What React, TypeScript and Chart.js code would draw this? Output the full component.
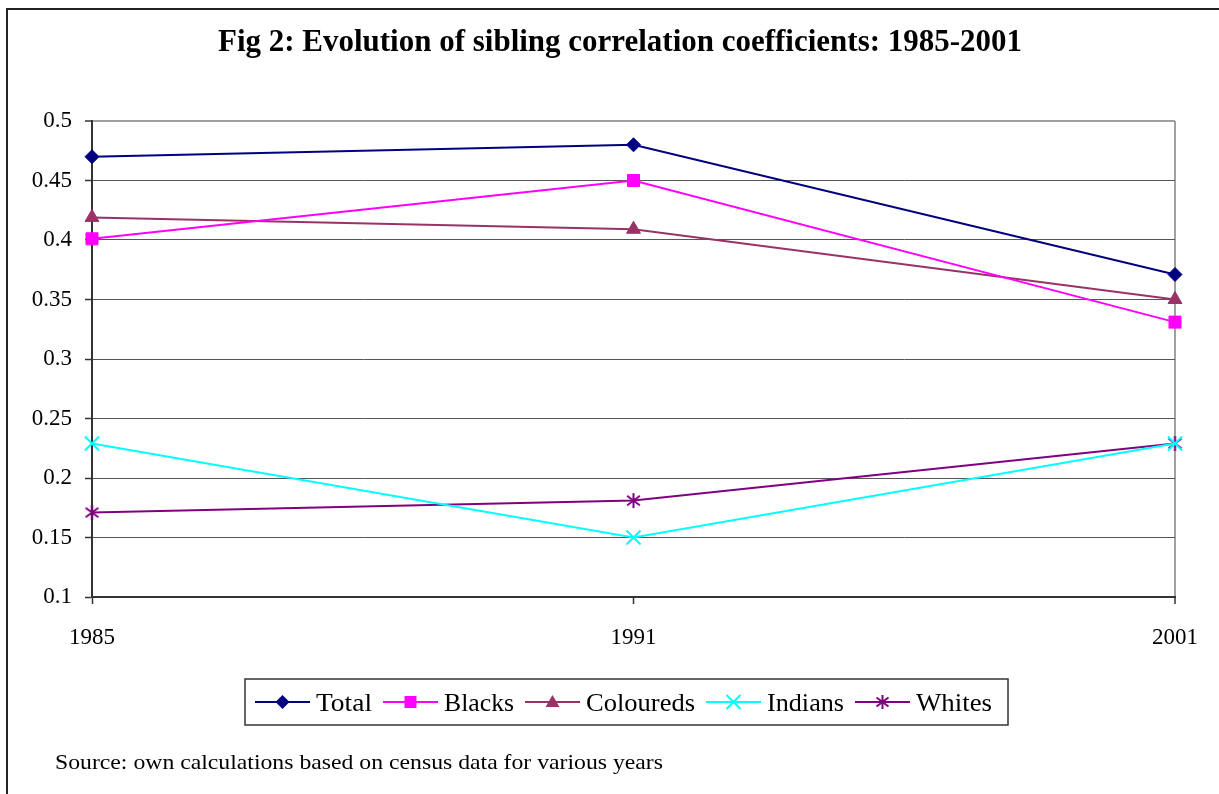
import React, { useEffect, useRef } from "react";
import { Chart, registerables } from "chart.js";

Chart.register(...registerables);

const years = ["1985", "1991", "2001"];
const total = [0.47, 0.48, 0.371];
const blacks = [0.401, 0.45, 0.331];
const coloureds = [0.419, 0.409, 0.35];
const indians = [0.229, 0.15, 0.229];
const whites = [0.171, 0.181, 0.229];

const titleText = "Fig 2: Evolution of sibling correlation coefficients: 1985-2001";
const sourceText = "Source: own calculations based on census data for various years";
const SERIF = '"Liberation Serif", "Times New Roman", serif';

function makeAsterisk(color: string, size: number) {
  const c = document.createElement("canvas");
  c.width = size;
  c.height = size;
  const g = c.getContext("2d")!;
  g.strokeStyle = color;
  g.lineWidth = 2;
  const m = size / 2;
  const r = size / 2 - 1;
  g.beginPath();
  g.moveTo(m, m - r);
  g.lineTo(m, m + r);
  const d = r * 0.85;
  g.moveTo(m - d, m - d * 0.75);
  g.lineTo(m + d, m + d * 0.75);
  g.moveTo(m + d, m - d * 0.75);
  g.lineTo(m - d, m + d * 0.75);
  g.stroke();
  return c;
}

function drawMarker(ctx: CanvasRenderingContext2D, kind: string, x: number, y: number, color: string) {
  ctx.save();
  ctx.fillStyle = color;
  ctx.strokeStyle = color;
  ctx.lineWidth = 2;
  ctx.beginPath();
  if (kind === "diamond") {
    ctx.moveTo(x, y - 7);
    ctx.lineTo(x + 7, y);
    ctx.lineTo(x, y + 7);
    ctx.lineTo(x - 7, y);
    ctx.closePath();
    ctx.fill();
  } else if (kind === "square") {
    ctx.rect(x - 6, y - 6, 12, 12);
    ctx.fill();
  } else if (kind === "triangle") {
    ctx.moveTo(x, y - 7);
    ctx.lineTo(x + 7, y + 5);
    ctx.lineTo(x - 7, y + 5);
    ctx.closePath();
    ctx.fill();
  } else if (kind === "x") {
    ctx.moveTo(x - 7, y - 7);
    ctx.lineTo(x + 7, y + 7);
    ctx.moveTo(x + 7, y - 7);
    ctx.lineTo(x - 7, y + 7);
    ctx.stroke();
  } else if (kind === "star") {
    ctx.moveTo(x, y - 7);
    ctx.lineTo(x, y + 7);
    ctx.moveTo(x - 6, y - 4.5);
    ctx.lineTo(x + 6, y + 4.5);
    ctx.moveTo(x + 6, y - 4.5);
    ctx.lineTo(x - 6, y + 4.5);
    ctx.stroke();
  }
  ctx.restore();
}

function stretchedText(ctx: CanvasRenderingContext2D, text: string, x: number, y: number, font: string, targetWidth: number, align: "left" | "center") {
  ctx.save();
  ctx.font = font;
  ctx.fillStyle = "#000";
  ctx.textBaseline = "alphabetic";
  const w = ctx.measureText(text).width;
  const sx = targetWidth / w;
  const left = align === "center" ? x - targetWidth / 2 : x;
  ctx.translate(left, y);
  ctx.scale(sx, 1);
  ctx.textAlign = "left";
  ctx.fillText(text, 0, 0);
  ctx.restore();
  return targetWidth;
}

const legendItems = [
  { label: "Total", color: "#000080", marker: "diamond", width: 56 },
  { label: "Blacks", color: "#FF00FF", marker: "square", width: 70 },
  { label: "Coloureds", color: "#993366", marker: "triangle", width: 109 },
  { label: "Indians", color: "#00FFFF", marker: "x", width: 77 },
  { label: "Whites", color: "#800080", marker: "star", width: 76 },
];

const decorPlugin = {
  id: "decor",
  afterDraw(chart: any) {
    const ctx: CanvasRenderingContext2D = chart.ctx;
    ctx.save();
    ctx.strokeStyle = "#222";
    ctx.lineWidth = 2;
    ctx.beginPath();
    ctx.moveTo(7, 800);
    ctx.lineTo(7, 9);
    ctx.lineTo(1225, 9);
    ctx.stroke();
    ctx.restore();

    stretchedText(ctx, titleText, 620, 51, `bold 31px ${SERIF}`, 804, "center");

    ctx.save();
    ctx.strokeStyle = "#333";
    ctx.lineWidth = 1.5;
    ctx.strokeRect(245, 679, 763, 46);
    ctx.restore();
    let x = 255;
    const cy = 702;
    for (const it of legendItems) {
      ctx.save();
      ctx.strokeStyle = it.color;
      ctx.lineWidth = 2;
      ctx.beginPath();
      ctx.moveTo(x, cy);
      ctx.lineTo(x + 55, cy);
      ctx.stroke();
      ctx.restore();
      drawMarker(ctx, it.marker, x + 27.5, cy, it.color);
      stretchedText(ctx, it.label, x + 61, cy + 9, `26px ${SERIF}`, it.width, "left");
      x = x + 61 + it.width + 11;
    }

    stretchedText(ctx, sourceText, 55, 769, `22px ${SERIF}`, 608, "left");
  },
};

export default function App() {
  const ref = useRef<HTMLCanvasElement>(null);
  useEffect(() => {
    const canvas = ref.current!;
    let chart: any = null;
    let cancelled = false;
    const build = () => {
      if (cancelled) return;
      const star = makeAsterisk("#800080", 17);
      const mk = (label: string, data: number[], color: string, pointStyle: any, radius: number) => ({
        label,
        data,
        borderColor: color,
        backgroundColor: color,
        borderWidth: 2,
        pointStyle,
        pointRadius: radius,
        pointHoverRadius: radius,
        pointBorderWidth: pointStyle === "crossRot" ? 2 : 1,
        tension: 0,
      });
      chart = new Chart(canvas, {
        type: "line",
        data: {
          labels: years,
          datasets: [
            mk("Total", total, "#000080", "rectRot", 7),
            mk("Blacks", blacks, "#FF00FF", "rect", 8.5),
            mk("Coloureds", coloureds, "#993366", "triangle", 8),
            mk("Indians", indians, "#00FFFF", "crossRot", 10),
            mk("Whites", whites, "#800080", star, 8),
          ],
        },
        options: {
          responsive: false,
          animation: false,
          devicePixelRatio: 1,
          layout: { padding: { left: 0, top: 121, right: 44, bottom: 137 } },
          plugins: {
            legend: { display: false },
            title: { display: false },
            tooltip: { enabled: false },
          },
          scales: {
            x: {
              type: "category",
              offset: false,
              afterFit: (s: any) => {
                s.height = 60;
              },
              grid: {
                drawOnChartArea: true,
                color: (c: any) => (c.index === 2 ? "#a0a0a0" : "rgba(0,0,0,0)"),
                lineWidth: (c: any) => (c.index === 2 ? 2 : 1),
                tickColor: "#333",
                tickWidth: 1.5,
                tickLength: 7,
              },
              border: { display: true, color: "#333", width: 2 },
              ticks: {
                color: "#000",
                font: { family: SERIF, size: 23 },
                padding: 20,
                maxRotation: 0,
              },
            },
            y: {
              min: 0.1,
              max: 0.5,
              afterFit: (s: any) => {
                s.width = 92;
              },
              grid: {
                color: (c: any) => (c.tick && Math.abs(c.tick.value - 0.5) < 1e-6 ? "#a0a0a0" : "#555"),
                lineWidth: (c: any) => (c.tick && Math.abs(c.tick.value - 0.5) < 1e-6 ? 2 : 1),
                tickColor: "#333",
                tickWidth: 1.5,
                tickLength: 7,
              },
              border: { display: true, color: "#333", width: 2 },
              ticks: {
                stepSize: 0.05,
                color: "#000",
                font: { family: SERIF, size: 23 },
                padding: 13,
                callback: (v: any) => String(Math.round(Number(v) * 100) / 100),
              },
            },
          },
        },
        plugins: [decorPlugin],
      } as any);
    };
    const fonts: any = (document as any).fonts;
    if (fonts && fonts.load) {
      Promise.all([
        fonts.load('23px "Liberation Serif"'),
        fonts.load('bold 31px "Liberation Serif"'),
      ])
        .catch(() => null)
        .then(() => build());
    } else {
      build();
    }
    return () => {
      cancelled = true;
      if (chart) chart.destroy();
    };
  }, []);
  return (
    <div style={{ position: "fixed", left: 0, top: 0, width: 1219, height: 794, background: "#fff" }}>
      <canvas ref={ref} width={1219} height={794} style={{ display: "block" }} />
    </div>
  );
}
